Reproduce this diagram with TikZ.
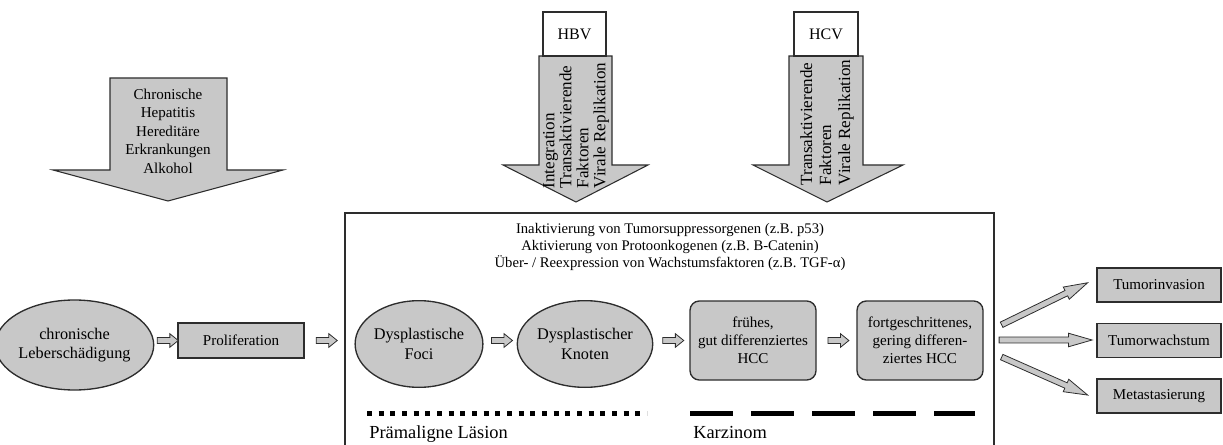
\documentclass[tikz,border=0pt]{standalone}
\usepackage{fontspec}
\setmainfont{Liberation Serif}
\usetikzlibrary{shapes.geometric,shapes.arrows}
\definecolor{boxgray}{RGB}{200,200,200}
\definecolor{edge}{RGB}{45,45,45}
\begin{document}
\begin{tikzpicture}[x=0.75pt,y=-0.75pt,
  every node/.style={font=\fontsize{11.3}{13.5}\selectfont, text=black},
  grayshape/.style={draw=edge, fill=boxgray, line width=1pt},
  ell/.style={grayshape, ellipse, inner sep=0pt, align=center, font=\fontsize{12.2}{14.5}\selectfont},
  rbox/.style={grayshape, rectangle, inner sep=0pt, align=center},
  rrbox/.style={grayshape, rectangle, rounded corners=7pt, inner sep=0pt, align=center, minimum width=94.5pt, minimum height=59.25pt},
  smallarrow/.style={single arrow, draw=edge, fill=boxgray, line width=0.6pt, inner xsep=0pt, inner ysep=2pt, minimum height=15.75pt, single arrow head extend=2.8pt, single arrow tip angle=78},
  bigarrow/.style={single arrow, draw=edge, fill=boxgray, line width=0.6pt, inner xsep=0pt, inner ysep=1.9pt, single arrow head extend=2.9pt, single arrow tip angle=32, sloped},
  blockarrow/.style={draw=edge, fill=boxgray, line width=0.8pt},
  vtext/.style={rotate=90, anchor=west, align=left},
  outbox/.style={rbox, minimum width=93pt, minimum height=25.5pt},
]
\useasboundingbox (0,0) rectangle (1223,445);

% big down arrows
\draw[blockarrow] (110,78) -- (227,78) -- (227,170) -- (283,170) -- (168,201) -- (53,170) -- (110,170) -- cycle;
\node[align=center, font=\fontsize{11.3}{13.9}\selectfont] (risk) at (168,131) {Chronische\\Hepatitis\\Hereditäre\\Erkrankungen\\Alkohol};

\draw[blockarrow] (539,56) -- (612,56) -- (612,165) -- (648,165) -- (576,202) -- (503,165) -- (539,165) -- cycle;
\node[draw=edge, fill=white, line width=0.8pt, minimum width=47.25pt, minimum height=33pt, inner sep=0pt, font=\fontsize{12}{14}\selectfont] (hbv) at (574.5,34) {HBV};
\node[vtext, font=\fontsize{12.8}{12.75}\selectfont] (hbvtext) at (576,193) {Integration\\Transaktivierende\\Faktoren\\Virale Replikation};

\draw[blockarrow] (789,56) -- (863,56) -- (863,165) -- (903,165) -- (827,202) -- (753,165) -- (789,165) -- cycle;
\node[draw=edge, fill=white, line width=0.8pt, minimum width=48pt, minimum height=33pt, inner sep=0pt, font=\fontsize{12}{14}\selectfont] (hcv) at (826,34) {HCV};
\node[vtext, font=\fontsize{12.8}{14.25}\selectfont] (hcvtext) at (827,190) {Transaktivierende\\Faktoren\\Virale Replikation};

% panel
\draw[draw=edge, line width=1.1pt] (345,447) -- (345,213) -- (994,213) -- (994,447);
\coordinate (pl) at (345,340.5);
\node[align=center, font=\fontsize{11}{12.4}\selectfont] (mech) at (670,247) {Inaktivierung von Tumorsuppressorgenen (z.B. p53)\\Aktivierung von Protoonkogenen (z.B. B-Catenin)\\Über- / Reexpression von Wachstumsfaktoren (z.B. TGF-α)};

% row
\node[ell, minimum width=93.75pt, minimum height=67.5pt] (chr) at (74.5,345) {chronische\\Leberschädigung};
\node[rbox, minimum width=94.5pt, minimum height=26.25pt] (prol) at (241,340.5) {Proliferation};
\node[ell, minimum width=94.5pt, minimum height=65pt] (foci) at (419,344) {Dysplastische\\Foci};
\node[ell, minimum width=93pt, minimum height=65pt] (knot) at (585,344) {Dysplastischer\\Knoten};
\node[rrbox] (early) at (753,340.5) {frühes,\\gut differenziertes\\HCC};
\node[rrbox] (adv) at (920,340.5) {fortgeschrittenes,\\gering differen-\\ziertes HCC};
\node[outbox] (inv) at (1159,285) {Tumorinvasion};
\node[outbox] (grow) at (1159,340.5) {Tumorwachstum};
\node[outbox] (meta) at (1159,396) {Metastasierung};

% small arrows
\path (chr.east |- prol.west) -- node[smallarrow]{} (prol.west);
\path (prol.east) -- node[smallarrow]{} (pl);
\path (foci.east |- early.west) -- node[smallarrow]{} (knot.west |- early.west);
\path (knot.east |- early.west) -- node[smallarrow]{} (early.west);
\path (early.east) -- node[smallarrow]{} (adv.west);

% outgoing arrows
\coordinate (s1) at (997,327); \coordinate (e1) at (1083,285);
\coordinate (s2) at (994,340); \coordinate (e2) at (1087,340);
\coordinate (s3) at (997,355); \coordinate (e3) at (1083,393);
\path (s1) -- node[bigarrow, minimum height=71.8pt]{} (e1);
\path (s2) -- node[bigarrow, minimum height=69.75pt]{} (e2);
\path (s3) -- node[bigarrow, minimum height=70.5pt]{} (e3);

% stage lines
\draw[line width=3.75pt, dash pattern=on 3.75pt off 5pt] (367,413) -- (647,413);
\draw[line width=3.75pt, dash pattern=on 32.25pt off 13.5pt] (690,413) -- (975,413);
\node[anchor=base west, font=\fontsize{13.8}{16}\selectfont, inner sep=0pt] (pre) at (369,438) {Prämaligne Läsion};
\node[anchor=base west, font=\fontsize{13.8}{16}\selectfont, inner sep=0pt] (karz) at (693,438) {Karzinom};
\end{tikzpicture}
\end{document}
